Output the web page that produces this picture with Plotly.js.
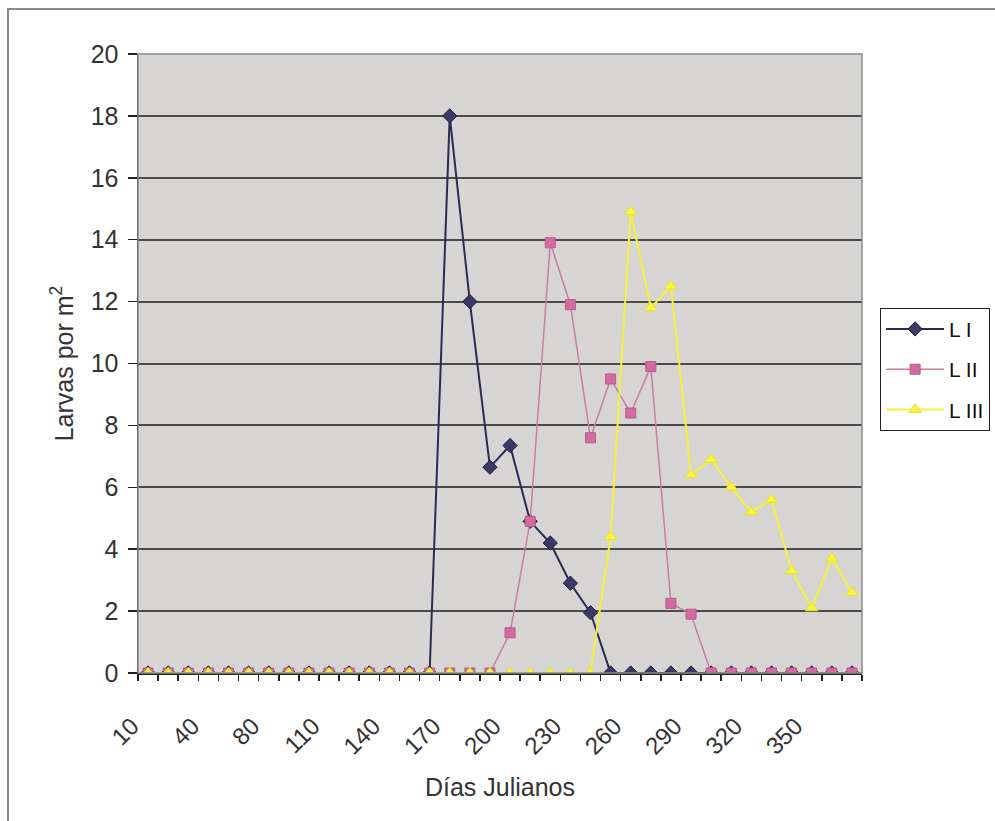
<!DOCTYPE html>
<html>
<head>
<meta charset="utf-8">
<script src="https://cdn.plot.ly/plotly-3.0.1.min.js"></script>
<style>
  html, body { margin: 0; padding: 0; background: #ffffff; }
  #frame { position: absolute; left: 7px; top: 8px; width: 1000px; height: 830px;
           border-top: 2px solid #8a8a8a; border-left: 2px solid #8a8a8a; pointer-events: none; }
  #chart { position: absolute; left: 0; top: 0; width: 995px; height: 821px; }
</style>
</head>
<body>
<div id="chart"></div>
<div id="frame"></div>
<script>
// Categories: Julian days (labels shown every 3rd category)
var dias = ['10','20','30','40','53','67','80','90','100','110','120','130','140','150','160','170',
            '180','190','200','210','220','230','240','250','260','270','280','290','300','310',
            '320','330','340','350','358','365'];

// Larvae per m2
var LI   = [0,0,0,0,0,0,0,0,0,0,0,0,0,0,0,18,12,6.65,7.35,4.9,4.2,2.9,1.95,0,0,0,0,0,0,0,0,0,0,0,0,0];
var LII  = [0,0,0,0,0,0,0,0,0,0,0,0,0,0,0,0,0,0,1.3,4.9,13.9,11.9,7.6,9.5,8.4,9.9,2.25,1.9,0,0,0,0,0,0,0,0];
var LIII = [0,0,0,0,0,0,0,0,0,0,0,0,0,0,0,0,0,0,0,0,0,0,0,4.4,14.9,11.8,12.5,6.4,6.9,6.0,5.2,5.6,3.3,2.1,3.7,2.6];

var seriesNames = ['L I', 'L II', 'L III'];
var yTicks = [0,2,4,6,8,10,12,14,16,18,20];

var traces = [
  { x: dias, y: LI, name: seriesNames[0], type: 'scatter', mode: 'lines+markers', legendgroup: 'a',
    line: { color: '#2a2a55', width: 2 },
    marker: { symbol: 'diamond', size: 11, color: '#3a3a66', line: { color: '#1e1e40', width: 1 } } },
  { x: dias, y: LII, name: seriesNames[1], type: 'scatter', mode: 'lines+markers', legendgroup: 'b',
    line: { color: '#c77ea2', width: 1.5 },
    marker: { symbol: 'square', size: 10, color: '#d36aa0', line: { color: '#b85a8a', width: 1 } } },
  { x: dias, y: LIII, name: seriesNames[2], type: 'scatter', mode: 'lines+markers', legendgroup: 'c',
    line: { color: '#f6f23a', width: 2 },
    marker: { symbol: 'triangle-up', size: 11, color: '#fbf53c', line: { color: '#e8e030', width: 1 } } }
];

var layout = {
  width: 995, height: 821,
  margin: { l: 138, r: 133, t: 54, b: 148, pad: 0, autoexpand: false },
  paper_bgcolor: 'rgba(0,0,0,0)',
  plot_bgcolor: '#d7d4d4',
  font: { family: 'Liberation Sans, Arial, sans-serif', color: '#222222' },
  showlegend: true,
  legend: {
    x: 1.025, y: 0.59, xanchor: 'left', yanchor: 'top',
    bgcolor: '#ffffff', bordercolor: '#222222', borderwidth: 1,
    font: { size: 21, color: '#111111' },
    tracegroupgap: 10, itemwidth: 58
  },
  xaxis: {
    type: 'category',
    categoryorder: 'array', categoryarray: dias,
    range: [-0.5, dias.length - 0.5],
    dtick: 1, ticklabelstep: 3, tick0: 0,
    tickson: 'boundaries',
    ticks: 'outside', ticklen: 6, tickwidth: 1.5, tickcolor: '#222222',
    tickangle: -45,
    ticklabelstandoff: 28, ticklabelshift: -16,
    tickfont: { size: 24, color: '#333333' },
    showgrid: false, zeroline: false,
    showline: true, linecolor: '#222222', linewidth: 1.5,
    title: { text: 'Días Julianos', font: { size: 25, color: '#333333' }, standoff: 20 },
    automargin: false,
    fixedrange: true
  },
  yaxis: {
    range: [0, 20],
    tickvals: yTicks,
    ticks: 'outside', ticklen: 9, tickwidth: 1.5, tickcolor: '#222222',
    ticklabelstandoff: 4,
    tickfont: { size: 25, color: '#333333' },
    showgrid: true, gridcolor: '#4a4a4a', gridwidth: 2,
    zeroline: false,
    showline: true, linecolor: '#222222', linewidth: 1.5,
    title: { text: 'Larvas por m<sup>2</sup>', font: { size: 25, color: '#333333' }, standoff: 10 },
    automargin: false,
    fixedrange: true
  },
  shapes: [
    { type: 'rect', xref: 'paper', yref: 'paper', x0: 0, x1: 1, y0: 0, y1: 1,
      line: { color: '#8a8a8a', width: 1.5 }, layer: 'above' }
  ]
};

Plotly.newPlot('chart', traces, layout, { displayModeBar: false, staticPlot: true });
</script>
</body>
</html>
